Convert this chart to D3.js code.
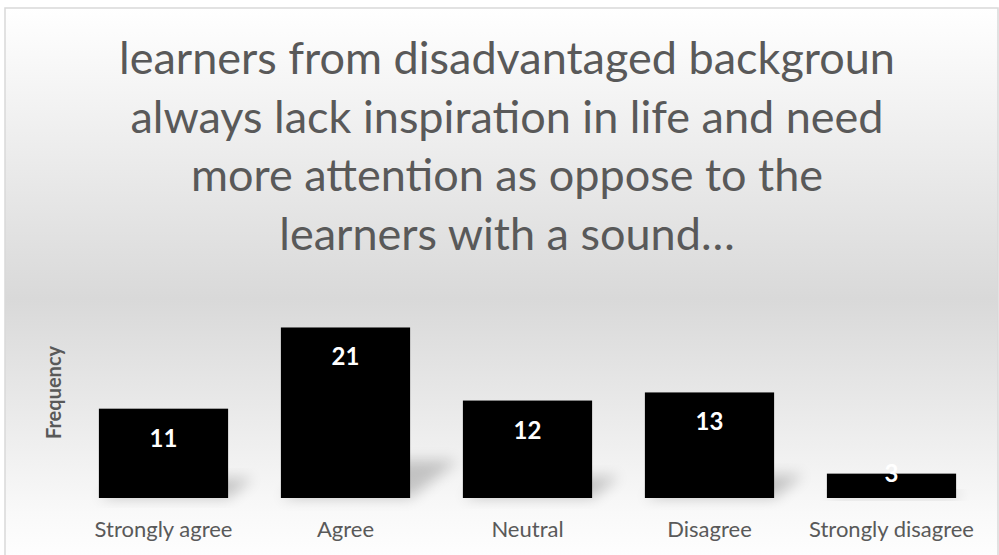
<!DOCTYPE html>
<html>
<head>
<meta charset="utf-8">
<script src="https://cdn.jsdelivr.net/npm/d3@7"></script>
<style>
    html, body { margin: 0; padding: 0; background: #fff; }
    svg { display: block; }
</style>
</head>
<body>
<div id="chart"></div>
<script>
// Chart data
const categories = ['Strongly agree', 'Agree', 'Neutral', 'Disagree', 'Strongly disagree'];
const frequencies = [11, 21, 12, 13, 3];
const titleLines = [
    'learners from disadvantaged backgroun',
    'always lack inspiration in life and need',
    'more attention as oppose to the',
    'learners with a sound\u2026'
];
const yAxisTitle = 'Frequency';
const yMax = 25;

const width = 999;
const height = 555;
const margin = { top: 295, right: 16.5, bottom: 57, left: 72.5 };
const fontFamily = 'Lato, "Open Sans", sans-serif';

const svg = d3.select('#chart')
    .append('svg')
    .attr('width', width)
    .attr('height', height);

const defs = svg.append('defs');

// Background gradient (white -> grey -> white)
const bg = defs.append('linearGradient')
    .attr('id', 'bg-gradient')
    .attr('x1', '0%').attr('y1', '0%')
    .attr('x2', '0%').attr('y2', '100%');
bg.selectAll('stop')
    .data([
        { o: 0, c: '#ffffff' },
        { o: 0.52, c: '#d9d9d9' },
        { o: 0.9, c: '#f9f9f9' },
        { o: 1, c: '#ffffff' }
    ])
    .enter()
    .append('stop')
    .attr('offset', d => d.o * 100 + '%')
    .attr('stop-color', d => d.c);

// Blur for the bar shadows
defs.append('filter')
    .attr('id', 'shadow-blur')
    .attr('x', '-50%').attr('y', '-50%')
    .attr('width', '200%').attr('height', '200%')
    .append('feGaussianBlur')
    .attr('stdDeviation', 7);

// Chart area with border
svg.append('rect')
    .attr('x', 5)
    .attr('y', 8)
    .attr('width', 993)
    .attr('height', 560)
    .attr('fill', 'url(#bg-gradient)')
    .attr('stroke', '#d9d9d9')
    .attr('stroke-width', 1.5);

// Title
const title = svg.append('text')
    .attr('text-anchor', 'middle')
    .style('font-family', fontFamily)
    .style('font-size', '45px')
    .style('fill', '#595959');

title.selectAll('tspan')
    .data(titleLines)
    .enter()
    .append('tspan')
    .attr('x', 507)
    .attr('y', (d, i) => 74 + i * 58.5)
    .text(d => d);

// Scales
const xScale = d3.scaleBand()
    .domain(categories)
    .range([margin.left, width - margin.right])
    .paddingInner(0.29)
    .paddingOuter(0.145);

const yScale = d3.scaleLinear()
    .domain([0, yMax])
    .range([height - margin.bottom, margin.top]);

const data = categories.map((c, i) => ({ category: c, value: frequencies[i] }));
const baseY = yScale(0);

const chartGroup = svg.append('g');

// Perspective shadows behind the bars
chartGroup.selectAll('.shadow')
    .data(data)
    .enter()
    .append('path')
    .attr('class', 'shadow')
    .attr('d', d => {
        const x0 = xScale(d.category);
        const x1 = x0 + xScale.bandwidth();
        const h = baseY - yScale(d.value);
        const dx = h * 0.28;
        const dy = h * 0.22;
        return `M${x0},${baseY}L${x1},${baseY}L${x1 + dx},${baseY - dy}L${x0 + dx},${baseY - dy}Z`;
    })
    .attr('fill', '#000')
    .attr('opacity', 0.2)
    .attr('filter', 'url(#shadow-blur)');

// Bars
chartGroup.selectAll('.bar')
    .data(data)
    .enter()
    .append('rect')
    .attr('class', 'bar')
    .attr('x', d => xScale(d.category))
    .attr('y', d => yScale(d.value))
    .attr('width', xScale.bandwidth())
    .attr('height', d => baseY - yScale(d.value))
    .attr('fill', '#000');

// Value labels (inside end)
chartGroup.selectAll('.value-label')
    .data(data)
    .enter()
    .append('text')
    .attr('class', 'value-label')
    .attr('x', d => xScale(d.category) + xScale.bandwidth() / 2)
    .attr('y', d => {
        const top = yScale(d.value);
        return (baseY - top) >= 50 ? top + 38 : top + 8;
    })
    .attr('text-anchor', 'middle')
    .style('font-family', fontFamily)
    .style('font-weight', 'bold')
    .style('font-size', '24px')
    .style('fill', '#fff')
    .text(d => d.value);

// X axis labels
const xAxis = svg.append('g')
    .attr('transform', `translate(0,${baseY})`)
    .call(d3.axisBottom(xScale).tickSize(0).tickPadding(0));

xAxis.select('.domain').remove();
xAxis.selectAll('text')
    .attr('y', 39)
    .attr('dy', 0)
    .style('font-family', fontFamily)
    .style('font-size', '22px')
    .style('fill', '#595959');

// Y axis title
svg.append('text')
    .attr('transform', `translate(61, ${(baseY + margin.top) / 2 - 4}) rotate(-90)`)
    .attr('text-anchor', 'middle')
    .style('font-family', fontFamily)
    .style('font-weight', 'bold')
    .style('font-size', '20px')
    .style('fill', '#595959')
    .text(yAxisTitle);
</script>
</body>
</html>
